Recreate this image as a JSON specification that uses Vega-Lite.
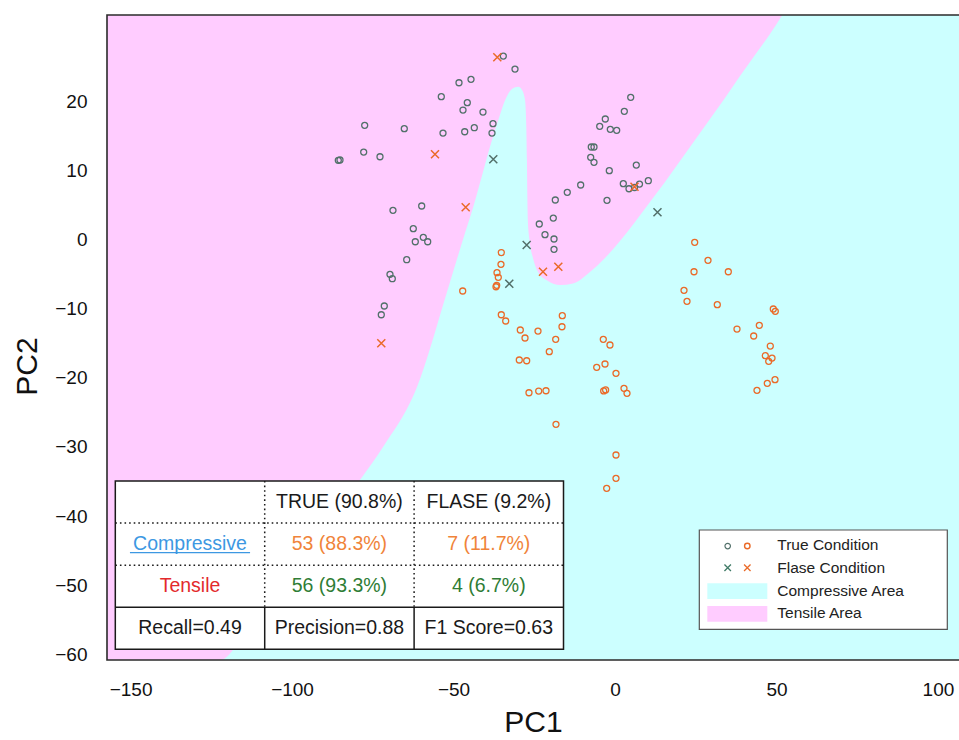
{
  "$schema": "https://vega.github.io/schema/vega-lite/v6.json",
  "width": 852,
  "height": 645,
  "autosize": {"type": "none"},
  "padding": {"left": 107, "top": 15, "right": 0, "bottom": 80},
  "background": "white",
  "config": {
    "view": {"fill": "#ccffff", "stroke": null},
    "font": "Liberation Sans",
    "axis": {
      "ticks": false, "tickSize": 0, "domain": false, "grid": false,
      "labelFont": "Liberation Sans", "labelFontSize": 19, "labelColor": "#111111",
      "labelPadding": 20, "labelFlush": false, "labelOverlap": false,
      "titleFont": "Liberation Sans", "titleFontSize": 30, "titleFontWeight": "normal", "titleColor": "#111111"
    },
    "axisX": {"titleY": 62, "titleBaseline": "middle"},
    "axisY": {"titleX": -80, "titleY": 351, "titleBaseline": "middle", "titleAlign": "center", "titleAngle": 270}
  },
  "datasets": {
    "boundary": [
      {"pc1": -157.29, "pc2": -60.83}, {"pc1": -122.30, "pc2": -60.83}, {"pc1": -111.47, "pc2": -54.32},
      {"pc1": -100.63, "pc2": -47.81}, {"pc1": -88.24, "pc2": -40.58}, {"pc1": -78.96, "pc2": -34.79},
      {"pc1": -71.83, "pc2": -30.01}, {"pc1": -61.31, "pc2": -21.33}, {"pc1": -52.11, "pc2": -7.73},
      {"pc1": -49.01, "pc2": -2.95}, {"pc1": -46.44, "pc2": 0.95}, {"pc1": -43.87, "pc2": 4.76},
      {"pc1": -41.27, "pc2": 9.10}, {"pc1": -38.70, "pc2": 13.44}, {"pc1": -36.13, "pc2": 17.30},
      {"pc1": -33.53, "pc2": 20.68}, {"pc1": -31.89, "pc2": 21.79}, {"pc1": -29.94, "pc2": 22.12},
      {"pc1": -28.79, "pc2": 21.65}, {"pc1": -27.86, "pc2": 20.20}, {"pc1": -27.46, "pc2": 16.33},
      {"pc1": -27.27, "pc2": 11.52}, {"pc1": -27.15, "pc2": 6.74}, {"pc1": -26.99, "pc2": 2.83},
      {"pc1": -26.47, "pc2": -0.06}, {"pc1": -25.39, "pc2": -2.66}, {"pc1": -23.84, "pc2": -4.69},
      {"pc1": -20.74, "pc2": -6.00}, {"pc1": -17.03, "pc2": -6.57}, {"pc1": -13.00, "pc2": -6.35},
      {"pc1": -7.74, "pc2": -4.69}, {"pc1": -3.09, "pc2": -2.66}, {"pc1": 1.55, "pc2": -0.21},
      {"pc1": 6.20, "pc2": 2.54}, {"pc1": 10.84, "pc2": 5.44}, {"pc1": 15.49, "pc2": 8.33},
      {"pc1": 20.13, "pc2": 11.37}, {"pc1": 24.78, "pc2": 14.41}, {"pc1": 29.42, "pc2": 17.45},
      {"pc1": 34.06, "pc2": 20.49}, {"pc1": 38.71, "pc2": 23.67}, {"pc1": 43.35, "pc2": 26.71},
      {"pc1": 48.00, "pc2": 29.75}, {"pc1": 51.80, "pc2": 32.50}
    ],
    "samples": [
      {"pc1": -34.58, "pc2": 26.56, "stress": "Tensile", "condition": "True"},
      {"pc1": -30.96, "pc2": 24.68, "stress": "Tensile", "condition": "True"},
      {"pc1": -48.30, "pc2": 22.70, "stress": "Tensile", "condition": "True"},
      {"pc1": -44.58, "pc2": 23.19, "stress": "Tensile", "condition": "True"},
      {"pc1": -53.78, "pc2": 20.68, "stress": "Tensile", "condition": "True"},
      {"pc1": -45.73, "pc2": 19.81, "stress": "Tensile", "condition": "True"},
      {"pc1": -47.06, "pc2": 18.75, "stress": "Tensile", "condition": "True"},
      {"pc1": -40.87, "pc2": 18.46, "stress": "Tensile", "condition": "True"},
      {"pc1": -77.50, "pc2": 16.54, "stress": "Tensile", "condition": "True"},
      {"pc1": -65.24, "pc2": 16.05, "stress": "Tensile", "condition": "True"},
      {"pc1": -53.25, "pc2": 15.42, "stress": "Tensile", "condition": "True"},
      {"pc1": -46.53, "pc2": 15.61, "stress": "Tensile", "condition": "True"},
      {"pc1": -43.56, "pc2": 16.19, "stress": "Tensile", "condition": "True"},
      {"pc1": -37.77, "pc2": 16.77, "stress": "Tensile", "condition": "True"},
      {"pc1": -38.08, "pc2": 15.42, "stress": "Tensile", "condition": "True"},
      {"pc1": -85.67, "pc2": 11.47, "stress": "Tensile", "condition": "True"},
      {"pc1": -85.15, "pc2": 11.52, "stress": "Tensile", "condition": "True"},
      {"pc1": -77.81, "pc2": 12.67, "stress": "Tensile", "condition": "True"},
      {"pc1": -72.76, "pc2": 11.99, "stress": "Tensile", "condition": "True"},
      {"pc1": -68.74, "pc2": 4.24, "stress": "Tensile", "condition": "True"},
      {"pc1": -59.85, "pc2": 4.86, "stress": "Tensile", "condition": "True"},
      {"pc1": -62.45, "pc2": 1.58, "stress": "Tensile", "condition": "True"},
      {"pc1": -59.35, "pc2": 0.33, "stress": "Tensile", "condition": "True"},
      {"pc1": -57.99, "pc2": -0.31, "stress": "Tensile", "condition": "True"},
      {"pc1": -61.83, "pc2": -0.31, "stress": "Tensile", "condition": "True"},
      {"pc1": -64.49, "pc2": -2.91, "stress": "Tensile", "condition": "True"},
      {"pc1": -69.67, "pc2": -5.02, "stress": "Tensile", "condition": "True"},
      {"pc1": -68.95, "pc2": -5.66, "stress": "Tensile", "condition": "True"},
      {"pc1": -71.43, "pc2": -9.61, "stress": "Tensile", "condition": "True"},
      {"pc1": -72.36, "pc2": -10.87, "stress": "Tensile", "condition": "True"},
      {"pc1": -23.44, "pc2": 2.26, "stress": "Tensile", "condition": "True"},
      {"pc1": -19.10, "pc2": 3.12, "stress": "Tensile", "condition": "True"},
      {"pc1": -21.67, "pc2": 0.71, "stress": "Tensile", "condition": "True"},
      {"pc1": -18.88, "pc2": 0.09, "stress": "Tensile", "condition": "True"},
      {"pc1": -18.88, "pc2": -1.41, "stress": "Tensile", "condition": "True"},
      {"pc1": -18.48, "pc2": 5.73, "stress": "Tensile", "condition": "True"},
      {"pc1": -14.77, "pc2": 6.84, "stress": "Tensile", "condition": "True"},
      {"pc1": -10.62, "pc2": 7.90, "stress": "Tensile", "condition": "True"},
      {"pc1": -2.47, "pc2": 5.68, "stress": "Tensile", "condition": "True"},
      {"pc1": -1.76, "pc2": 9.97, "stress": "Tensile", "condition": "True"},
      {"pc1": 6.60, "pc2": 10.79, "stress": "Tensile", "condition": "True"},
      {"pc1": 2.58, "pc2": 8.09, "stress": "Tensile", "condition": "True"},
      {"pc1": 4.34, "pc2": 7.36, "stress": "Tensile", "condition": "True"},
      {"pc1": 7.59, "pc2": 8.04, "stress": "Tensile", "condition": "True"},
      {"pc1": 10.32, "pc2": 8.52, "stress": "Tensile", "condition": "True"},
      {"pc1": -7.34, "pc2": 13.40, "stress": "Tensile", "condition": "True"},
      {"pc1": -6.50, "pc2": 13.40, "stress": "Tensile", "condition": "True"},
      {"pc1": -7.52, "pc2": 11.91, "stress": "Tensile", "condition": "True"},
      {"pc1": -6.50, "pc2": 11.18, "stress": "Tensile", "condition": "True"},
      {"pc1": -4.73, "pc2": 16.39, "stress": "Tensile", "condition": "True"},
      {"pc1": -3.00, "pc2": 17.45, "stress": "Tensile", "condition": "True"},
      {"pc1": -1.45, "pc2": 15.96, "stress": "Tensile", "condition": "True"},
      {"pc1": 0.53, "pc2": 15.81, "stress": "Tensile", "condition": "True"},
      {"pc1": 2.89, "pc2": 18.56, "stress": "Tensile", "condition": "True"},
      {"pc1": 4.87, "pc2": 20.59, "stress": "Tensile", "condition": "True"},
      {"pc1": 6.04, "pc2": 7.54, "stress": "Tensile", "condition": "True"},
      {"pc1": -35.20, "pc2": -1.87, "stress": "Compressive", "condition": "True"},
      {"pc1": -35.30, "pc2": -3.58, "stress": "Compressive", "condition": "True"},
      {"pc1": -36.53, "pc2": -4.79, "stress": "Compressive", "condition": "True"},
      {"pc1": -36.13, "pc2": -5.46, "stress": "Compressive", "condition": "True"},
      {"pc1": -36.63, "pc2": -6.62, "stress": "Compressive", "condition": "True"},
      {"pc1": -36.84, "pc2": -6.82, "stress": "Compressive", "condition": "True"},
      {"pc1": -47.15, "pc2": -7.44, "stress": "Compressive", "condition": "True"},
      {"pc1": -35.20, "pc2": -10.87, "stress": "Compressive", "condition": "True"},
      {"pc1": -16.31, "pc2": -11.01, "stress": "Compressive", "condition": "True"},
      {"pc1": -33.84, "pc2": -11.78, "stress": "Compressive", "condition": "True"},
      {"pc1": -29.32, "pc2": -13.08, "stress": "Compressive", "condition": "True"},
      {"pc1": -27.86, "pc2": -14.24, "stress": "Compressive", "condition": "True"},
      {"pc1": -23.84, "pc2": -13.23, "stress": "Compressive", "condition": "True"},
      {"pc1": -16.41, "pc2": -12.61, "stress": "Compressive", "condition": "True"},
      {"pc1": -18.36, "pc2": -14.43, "stress": "Compressive", "condition": "True"},
      {"pc1": -20.34, "pc2": -16.22, "stress": "Compressive", "condition": "True"},
      {"pc1": -29.63, "pc2": -17.42, "stress": "Compressive", "condition": "True"},
      {"pc1": -27.34, "pc2": -17.53, "stress": "Compressive", "condition": "True"},
      {"pc1": -26.63, "pc2": -22.16, "stress": "Compressive", "condition": "True"},
      {"pc1": -23.62, "pc2": -21.91, "stress": "Compressive", "condition": "True"},
      {"pc1": -21.36, "pc2": -21.87, "stress": "Compressive", "condition": "True"},
      {"pc1": -18.27, "pc2": -26.73, "stress": "Compressive", "condition": "True"},
      {"pc1": -3.62, "pc2": -14.43, "stress": "Compressive", "condition": "True"},
      {"pc1": -1.55, "pc2": -15.25, "stress": "Compressive", "condition": "True"},
      {"pc1": -5.66, "pc2": -18.48, "stress": "Compressive", "condition": "True"},
      {"pc1": -3.09, "pc2": -18.00, "stress": "Compressive", "condition": "True"},
      {"pc1": 0.31, "pc2": -19.35, "stress": "Compressive", "condition": "True"},
      {"pc1": -3.50, "pc2": -21.90, "stress": "Compressive", "condition": "True"},
      {"pc1": -2.90, "pc2": -21.75, "stress": "Compressive", "condition": "True"},
      {"pc1": 2.79, "pc2": -21.52, "stress": "Compressive", "condition": "True"},
      {"pc1": 3.72, "pc2": -22.24, "stress": "Compressive", "condition": "True"},
      {"pc1": 0.31, "pc2": -31.17, "stress": "Compressive", "condition": "True"},
      {"pc1": 0.31, "pc2": -34.54, "stress": "Compressive", "condition": "True"},
      {"pc1": -2.57, "pc2": -35.99, "stress": "Compressive", "condition": "True"},
      {"pc1": 24.68, "pc2": -0.39, "stress": "Compressive", "condition": "True"},
      {"pc1": 28.80, "pc2": -3.00, "stress": "Compressive", "condition": "True"},
      {"pc1": 24.47, "pc2": -4.65, "stress": "Compressive", "condition": "True"},
      {"pc1": 35.09, "pc2": -4.65, "stress": "Compressive", "condition": "True"},
      {"pc1": 21.37, "pc2": -7.34, "stress": "Compressive", "condition": "True"},
      {"pc1": 22.30, "pc2": -8.93, "stress": "Compressive", "condition": "True"},
      {"pc1": 31.68, "pc2": -9.42, "stress": "Compressive", "condition": "True"},
      {"pc1": 49.02, "pc2": -10.04, "stress": "Compressive", "condition": "True"},
      {"pc1": 49.64, "pc2": -10.38, "stress": "Compressive", "condition": "True"},
      {"pc1": 37.78, "pc2": -12.94, "stress": "Compressive", "condition": "True"},
      {"pc1": 44.69, "pc2": -12.40, "stress": "Compressive", "condition": "True"},
      {"pc1": 42.95, "pc2": -13.95, "stress": "Compressive", "condition": "True"},
      {"pc1": 48.09, "pc2": -15.40, "stress": "Compressive", "condition": "True"},
      {"pc1": 46.54, "pc2": -16.80, "stress": "Compressive", "condition": "True"},
      {"pc1": 48.62, "pc2": -17.14, "stress": "Compressive", "condition": "True"},
      {"pc1": 47.60, "pc2": -17.61, "stress": "Compressive", "condition": "True"},
      {"pc1": 49.55, "pc2": -20.27, "stress": "Compressive", "condition": "True"},
      {"pc1": 47.16, "pc2": -20.80, "stress": "Compressive", "condition": "True"},
      {"pc1": 43.97, "pc2": -21.81, "stress": "Compressive", "condition": "True"},
      {"pc1": -36.44, "pc2": 26.38, "stress": "Compressive", "condition": "False"},
      {"pc1": -55.73, "pc2": 12.34, "stress": "Compressive", "condition": "False"},
      {"pc1": -46.23, "pc2": 4.67, "stress": "Compressive", "condition": "False"},
      {"pc1": -22.29, "pc2": -4.65, "stress": "Compressive", "condition": "False"},
      {"pc1": -17.55, "pc2": -3.92, "stress": "Compressive", "condition": "False"},
      {"pc1": -72.36, "pc2": -15.01, "stress": "Compressive", "condition": "False"},
      {"pc1": 6.04, "pc2": 7.65, "stress": "Compressive", "condition": "False"},
      {"pc1": -37.68, "pc2": 11.62, "stress": "Tensile", "condition": "False"},
      {"pc1": -32.73, "pc2": -6.38, "stress": "Tensile", "condition": "False"},
      {"pc1": -27.34, "pc2": -0.78, "stress": "Tensile", "condition": "False"},
      {"pc1": 13.16, "pc2": 3.95, "stress": "Tensile", "condition": "False"}
    ],
    "matrix": [
      {"col": 1, "row": 0, "label": "TRUE (90.8%)", "kind": "header"},
      {"col": 2, "row": 0, "label": "FLASE (9.2%)", "kind": "header"},
      {"col": 0, "row": 1, "label": "Compressive", "kind": "compressive name"},
      {"col": 1, "row": 1, "label": "53 (88.3%)", "kind": "compressive count"},
      {"col": 2, "row": 1, "label": "7 (11.7%)", "kind": "compressive count"},
      {"col": 0, "row": 2, "label": "Tensile", "kind": "tensile name"},
      {"col": 1, "row": 2, "label": "56 (93.3%)", "kind": "tensile count"},
      {"col": 2, "row": 2, "label": "4 (6.7%)", "kind": "tensile count"},
      {"col": 0, "row": 3, "label": "Recall=0.49", "kind": "metric"},
      {"col": 1, "row": 3, "label": "Precision=0.88", "kind": "metric"},
      {"col": 2, "row": 3, "label": "F1 Score=0.63", "kind": "metric"}
    ]
  },
  "layer": [
    {
      "layer": [
        {
          "data": {"name": "boundary"},
          "mark": {"type": "area", "color": "#ffccff", "interpolate": "monotone", "clip": true},
          "encoding": {
            "x": {"field": "pc1", "type": "quantitative", "title": "PC1",
                  "scale": {"domain": [-157.29, 106.52], "nice": false, "zero": false},
                  "axis": {"values": [-150, -100, -50, 0, 50, 100]}},
            "y": {"field": "pc2", "type": "quantitative", "title": "PC2", "stack": null,
                  "scale": {"domain": [-60.83, 32.5], "nice": false, "zero": false},
                  "axis": {"values": [-60, -50, -40, -30, -20, -10, 0, 10, 20]}},
            "y2": {"datum": 32.5}
          }
        },
        {
          "data": {"name": "samples"},
          "transform": [{"filter": "datum.condition === 'True'"}],
          "mark": {"type": "point", "shape": "circle", "filled": false, "size": 36, "strokeWidth": 1.3, "opacity": 1},
          "encoding": {
            "x": {"field": "pc1", "type": "quantitative", "title": "PC1"},
            "y": {"field": "pc2", "type": "quantitative", "title": "PC2"},
            "color": {"field": "stress", "type": "nominal", "legend": null,
                      "scale": {"domain": ["Tensile", "Compressive"], "range": ["#52706a", "#ea6a28"]}}
          }
        },
        {
          "data": {"name": "samples"},
          "transform": [{"filter": "datum.condition === 'False'"}],
          "mark": {"type": "point", "shape": "M-1,-1L1,1M-1,1L1,-1", "filled": false, "size": 64, "strokeWidth": 1.5, "opacity": 1},
          "encoding": {
            "x": {"field": "pc1", "type": "quantitative", "title": "PC1"},
            "y": {"field": "pc2", "type": "quantitative", "title": "PC2"},
            "color": {"field": "stress", "type": "nominal", "legend": null,
                      "scale": {"domain": ["Tensile", "Compressive"], "range": ["#52706a", "#ea6a28"]}}
          }
        },
        {
          "data": {"values": [{}]},
          "mark": {"type": "rect", "fill": "white", "stroke": "#555555", "strokeWidth": 1.2},
          "encoding": {
            "x": {"datum": 26.11, "type": "quantitative", "title": "PC1"}, "x2": {"datum": 102.9},
            "y": {"datum": -42.02, "type": "quantitative", "title": "PC2"}, "y2": {"datum": -56.39}
          }
        },
        {
          "data": {"values": [{}]},
          "mark": {"type": "point", "shape": "circle", "filled": false, "size": 30, "strokeWidth": 1.2, "color": "#52706a", "opacity": 1},
          "encoding": {"x": {"datum": 34.9, "type": "quantitative", "title": "PC1"}, "y": {"datum": -44.34, "type": "quantitative", "title": "PC2"}}
        },
        {
          "data": {"values": [{}]},
          "mark": {"type": "point", "shape": "circle", "filled": false, "size": 30, "strokeWidth": 1.4, "color": "#ea6a28", "opacity": 1},
          "encoding": {"x": {"datum": 40.97, "type": "quantitative", "title": "PC1"}, "y": {"datum": -44.34, "type": "quantitative", "title": "PC2"}}
        },
        {
          "data": {"values": [{}]},
          "mark": {"type": "point", "shape": "M-1,-1L1,1M-1,1L1,-1", "filled": false, "size": 42, "strokeWidth": 1.3, "color": "#3f7a66", "opacity": 1},
          "encoding": {"x": {"datum": 34.9, "type": "quantitative", "title": "PC1"}, "y": {"datum": -47.48, "type": "quantitative", "title": "PC2"}}
        },
        {
          "data": {"values": [{}]},
          "mark": {"type": "point", "shape": "M-1,-1L1,1M-1,1L1,-1", "filled": false, "size": 42, "strokeWidth": 1.3, "color": "#ea6a28", "opacity": 1},
          "encoding": {"x": {"datum": 40.97, "type": "quantitative", "title": "PC1"}, "y": {"datum": -47.48, "type": "quantitative", "title": "PC2"}}
        },
        {
          "data": {"values": [{}]},
          "mark": {"type": "rect", "fill": "#ccffff"},
          "encoding": {
            "x": {"datum": 28.59, "type": "quantitative", "title": "PC1"}, "x2": {"datum": 47.17},
            "y": {"datum": -49.74, "type": "quantitative", "title": "PC2"}, "y2": {"datum": -52.01}
          }
        },
        {
          "data": {"values": [{}]},
          "mark": {"type": "rect", "fill": "#ffccff"},
          "encoding": {
            "x": {"datum": 28.59, "type": "quantitative", "title": "PC1"}, "x2": {"datum": 47.17},
            "y": {"datum": -53.02, "type": "quantitative", "title": "PC2"}, "y2": {"datum": -55.29}
          }
        },
        {
          "data": {"values": [{}]},
          "mark": {"type": "text", "text": "True Condition", "align": "left", "baseline": "middle", "fontSize": 15.5, "color": "#222222"},
          "encoding": {"x": {"datum": 50.26, "type": "quantitative", "title": "PC1"}, "y": {"datum": -44.24, "type": "quantitative", "title": "PC2"}}
        },
        {
          "data": {"values": [{}]},
          "mark": {"type": "text", "text": "Flase Condition", "align": "left", "baseline": "middle", "fontSize": 15.5, "color": "#222222"},
          "encoding": {"x": {"datum": 50.26, "type": "quantitative", "title": "PC1"}, "y": {"datum": -47.48, "type": "quantitative", "title": "PC2"}}
        },
        {
          "data": {"values": [{}]},
          "mark": {"type": "text", "text": "Compressive Area", "align": "left", "baseline": "middle", "fontSize": 15.5, "color": "#222222"},
          "encoding": {"x": {"datum": 50.26, "type": "quantitative", "title": "PC1"}, "y": {"datum": -50.85, "type": "quantitative", "title": "PC2"}}
        },
        {
          "data": {"values": [{}]},
          "mark": {"type": "text", "text": "Tensile Area", "align": "left", "baseline": "middle", "fontSize": 15.5, "color": "#222222"},
          "encoding": {"x": {"datum": 50.26, "type": "quantitative", "title": "PC1"}, "y": {"datum": -54.08, "type": "quantitative", "title": "PC2"}}
        },
        {
          "data": {"values": [{}]},
          "mark": {"type": "rect", "fillOpacity": 0, "stroke": "#2b2b2b", "strokeWidth": 1.6},
          "encoding": {
            "x": {"datum": -157.29, "type": "quantitative", "title": "PC1"}, "x2": {"datum": 107.5},
            "y": {"datum": -60.83, "type": "quantitative", "title": "PC2"}, "y2": {"datum": 32.5}
          }
        }
      ]
    },
    {
      "layer": [
        {
          "data": {"values": [{}]},
          "mark": {"type": "rect", "fill": "white", "stroke": "#1a1a1a", "strokeWidth": 1.5},
          "encoding": {
            "x": {"datum": -0.5, "type": "quantitative", "axis": null, "scale": {"domain": [-0.5556, 5.1472], "nice": false, "zero": false}},
            "x2": {"datum": 2.5},
            "y": {"datum": -0.5, "type": "quantitative", "axis": null, "scale": {"domain": [-11.568, 3.753], "nice": false, "zero": false, "reverse": true}},
            "y2": {"datum": 3.5}
          }
        },
        {
          "data": {"values": [{}]},
          "mark": {"type": "rule", "color": "#1a1a1a", "strokeWidth": 1.5, "strokeDash": [1.6, 3]},
          "encoding": {"x": {"datum": -0.5, "type": "quantitative", "axis": null}, "x2": {"datum": 2.5}, "y": {"datum": 0.5, "type": "quantitative", "axis": null}}
        },
        {
          "data": {"values": [{}]},
          "mark": {"type": "rule", "color": "#1a1a1a", "strokeWidth": 1.5, "strokeDash": [1.6, 3]},
          "encoding": {"x": {"datum": -0.5, "type": "quantitative", "axis": null}, "x2": {"datum": 2.5}, "y": {"datum": 1.5, "type": "quantitative", "axis": null}}
        },
        {
          "data": {"values": [{}]},
          "mark": {"type": "rule", "color": "#1a1a1a", "strokeWidth": 1.5},
          "encoding": {"x": {"datum": -0.5, "type": "quantitative", "axis": null}, "x2": {"datum": 2.5}, "y": {"datum": 2.5, "type": "quantitative", "axis": null}}
        },
        {
          "data": {"values": [{}]},
          "mark": {"type": "rule", "color": "#1a1a1a", "strokeWidth": 1.5, "strokeDash": [1.6, 3]},
          "encoding": {"x": {"datum": 0.5, "type": "quantitative", "axis": null}, "y": {"datum": -0.5, "type": "quantitative", "axis": null}, "y2": {"datum": 2.5}}
        },
        {
          "data": {"values": [{}]},
          "mark": {"type": "rule", "color": "#1a1a1a", "strokeWidth": 1.5, "strokeDash": [1.6, 3]},
          "encoding": {"x": {"datum": 1.5, "type": "quantitative", "axis": null}, "y": {"datum": -0.5, "type": "quantitative", "axis": null}, "y2": {"datum": 2.5}}
        },
        {
          "data": {"values": [{}]},
          "mark": {"type": "rule", "color": "#1a1a1a", "strokeWidth": 1.5},
          "encoding": {"x": {"datum": 0.5, "type": "quantitative", "axis": null}, "y": {"datum": 2.5, "type": "quantitative", "axis": null}, "y2": {"datum": 3.5}}
        },
        {
          "data": {"values": [{}]},
          "mark": {"type": "rule", "color": "#1a1a1a", "strokeWidth": 1.5},
          "encoding": {"x": {"datum": 1.5, "type": "quantitative", "axis": null}, "y": {"datum": 2.5, "type": "quantitative", "axis": null}, "y2": {"datum": 3.5}}
        },
        {
          "data": {"name": "matrix"},
          "mark": {"type": "text", "fontSize": 19.5, "align": "center", "baseline": "middle"},
          "encoding": {
            "x": {"field": "col", "type": "quantitative", "axis": null},
            "y": {"field": "row", "type": "quantitative", "axis": null},
            "text": {"field": "label"},
            "color": {"field": "kind", "type": "nominal", "legend": null,
                      "scale": {"domain": ["header", "compressive name", "compressive count", "tensile name", "tensile count", "metric"],
                                "range": ["#1a1a1a", "#3d98e2", "#f0843a", "#e3292c", "#2f7d35", "#1a1a1a"]}}
          }
        },
        {
          "data": {"values": [{}]},
          "mark": {"type": "rule", "color": "#3d98e2", "strokeWidth": 1.2},
          "encoding": {"x": {"datum": -0.402, "type": "quantitative", "axis": null}, "x2": {"datum": 0.402}, "y": {"datum": 1.204, "type": "quantitative", "axis": null}}
        }
      ]
    }
  ],
  "resolve": {
    "scale": {"x": "independent", "y": "independent", "color": "independent"},
    "axis": {"x": "independent", "y": "independent"}
  }
}
